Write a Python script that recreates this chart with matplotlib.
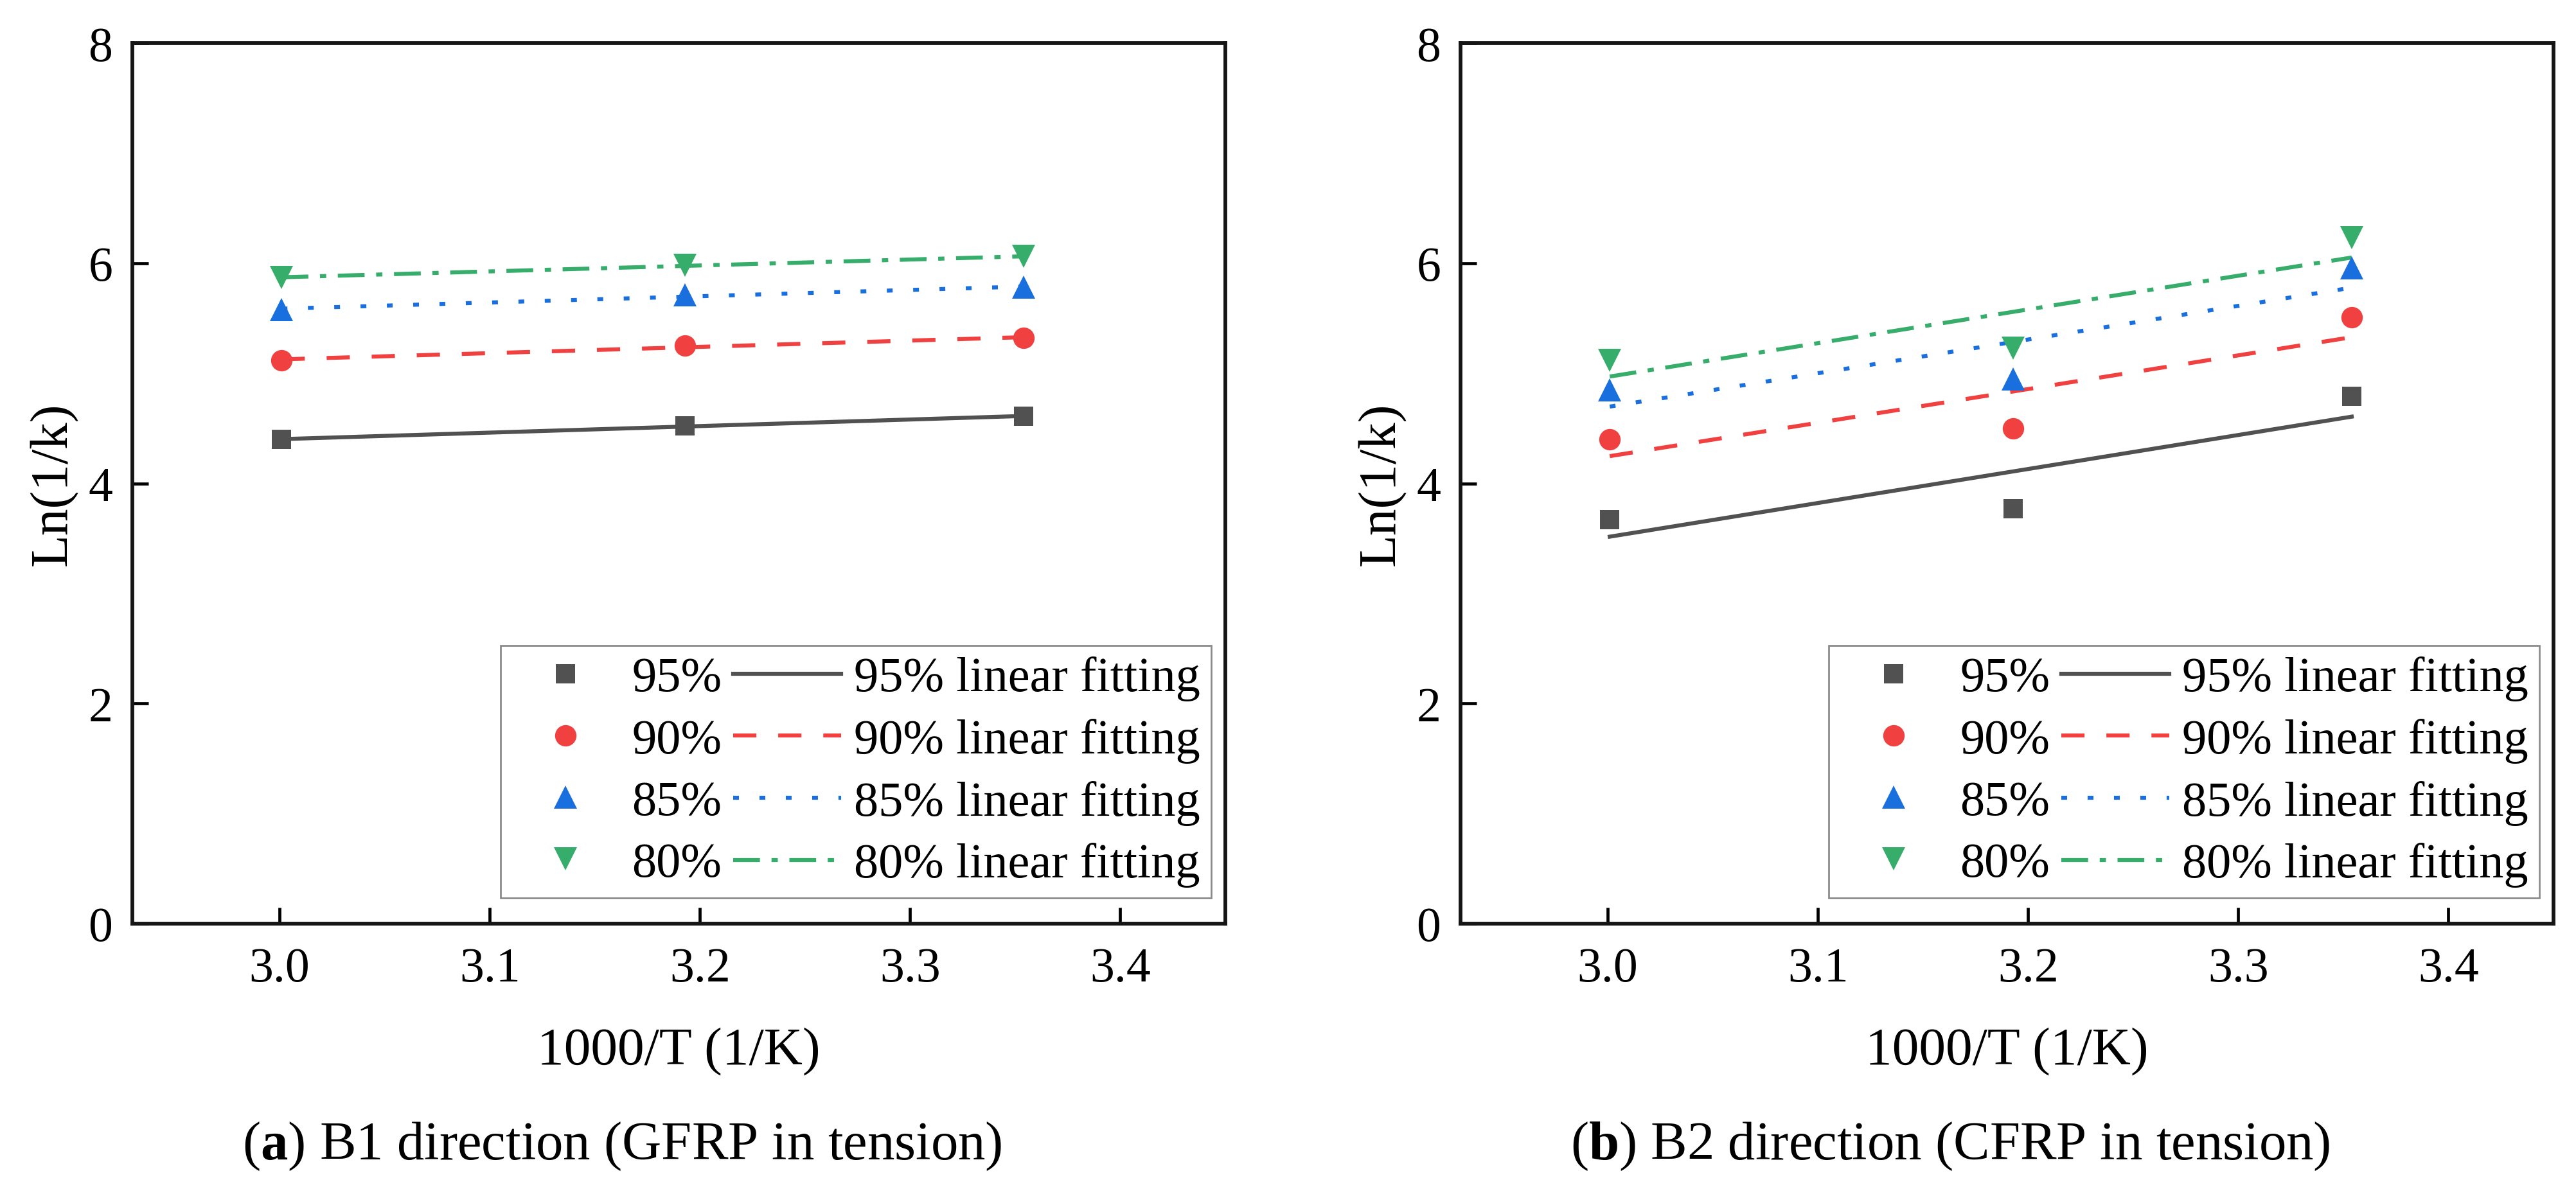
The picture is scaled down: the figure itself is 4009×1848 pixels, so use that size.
import numpy as np
import matplotlib
matplotlib.use('Agg')
import matplotlib.pyplot as plt
from matplotlib.lines import Line2D

plt.rcParams['font.family'] = ['Liberation Serif', 'DejaVu Serif']
plt.rcParams['mathtext.fontset'] = 'custom'
plt.rcParams['mathtext.rm'] = 'Liberation Serif'
plt.rcParams['mathtext.bf'] = 'Liberation Serif:bold'
plt.rcParams['lines.scale_dashes'] = False

# 1000/T values (1/K)
x_vals = [3.001, 3.193, 3.354]

# B1 direction (GFRP in tension)
b1_95 = [4.40, 4.52, 4.61]
b1_90 = [5.12, 5.25, 5.32]
b1_85 = [5.58, 5.71, 5.78]
b1_80 = [5.87, 5.98, 6.06]

# B2 direction (CFRP in tension)
b2_95 = [3.67, 3.77, 4.79]
b2_90 = [4.40, 4.50, 5.51]
b2_85 = [4.85, 4.95, 5.96]
b2_80 = [5.12, 5.23, 6.23]

levels = ['95%', '90%', '85%', '80%']
colors = ['#515151', '#F14040', '#1A6FDF', '#37AD6B']
markers = ['s', 'o', '^', 'v']
msizes = [21, 24, 26, 26]
styles = ['-', (0, (26, 24.5)), (0, (6.5, 23)), (0, (30, 13, 7, 13))]

x_ticks = [3.0, 3.1, 3.2, 3.3, 3.4]
y_ticks = [0, 2, 4, 6, 8]

captions = [r'($\mathbf{a}$) B1 direction (GFRP in tension)',
            r'($\mathbf{b}$) B2 direction (CFRP in tension)']

fig = plt.figure(figsize=(40.09, 18.49), dpi=100)
ax1 = fig.add_axes([206/4009, 410/1849, 1701/4009, 1371/1849])
ax2 = fig.add_axes([2273/4009, 410/1849, 1701/4009, 1371/1849])


def draw_panel(ax, series):
    x = np.array(x_vals)
    for i, y in enumerate(series):
        k, b = np.polyfit(x, y, 1)
        ax.plot(x, k*x + b, color=colors[i], lw=4.5, linestyle=styles[i],
                dash_capstyle='butt', zorder=2)
        ax.plot(x, y, linestyle='none', marker=markers[i], ms=msizes[i],
                color=colors[i], mew=0, zorder=3)

    ax.set_xlim(2.93, 3.45)
    ax.set_ylim(0, 8)
    ax.set_xticks(x_ticks)
    ax.set_xticklabels(['%.1f' % t for t in x_ticks])
    ax.set_yticks(y_ticks)
    ax.tick_params(direction='in', length=18, width=3.4, labelsize=54.5,
                   top=False, right=False)
    ax.tick_params(axis='x', pad=26)
    ax.tick_params(axis='y', pad=22)
    for s in ax.spines.values():
        s.set_linewidth(4.2)
        s.set_color('#151515')

    ax.set_xlabel('1000/T (1/K)', fontsize=60)
    ax.xaxis.set_label_coords(0.5, -0.145)
    ax.xaxis.label.set_va('center')
    ax.set_ylabel('Ln(1/k)', fontsize=60)
    ax.yaxis.set_label_coords(-0.072, 0.5)
    ax.yaxis.label.set_va('center')

    # legend: markers in first column, fitting lines in second
    handles = []
    labels = []
    for i in range(4):
        handles.append(Line2D([], [], linestyle='none', marker=markers[i],
                              ms=msizes[i], color=colors[i], mew=0))
        labels.append(levels[i])
    for i in range(4):
        handles.append(Line2D([], [], color=colors[i], lw=4.5,
                              linestyle=styles[i], dash_capstyle='butt'))
        labels.append(levels[i] + ' linear fitting')
    leg = ax.legend(handles, labels, ncol=2, loc='lower right',
                    bbox_to_anchor=(0.987, 0.029), borderaxespad=0,
                    fontsize=55, handlelength=2.2, handletextpad=0.26,
                    columnspacing=0.23, labelspacing=0.35, borderpad=0.22,
                    fancybox=False, framealpha=1, numpoints=1)
    leg.get_frame().set_edgecolor('#8c8c8c')
    leg.get_frame().set_linewidth(2)


draw_panel(ax1, [b1_95, b1_90, b1_85, b1_80])
draw_panel(ax2, [b2_95, b2_90, b2_85, b2_80])

fig.text(968/4009, 44/1849, captions[0], fontsize=61, ha='center', va='baseline')
fig.text(3035/4009, 44/1849, captions[1], fontsize=61, ha='center', va='baseline')

fig.savefig('out.png', dpi=100)
